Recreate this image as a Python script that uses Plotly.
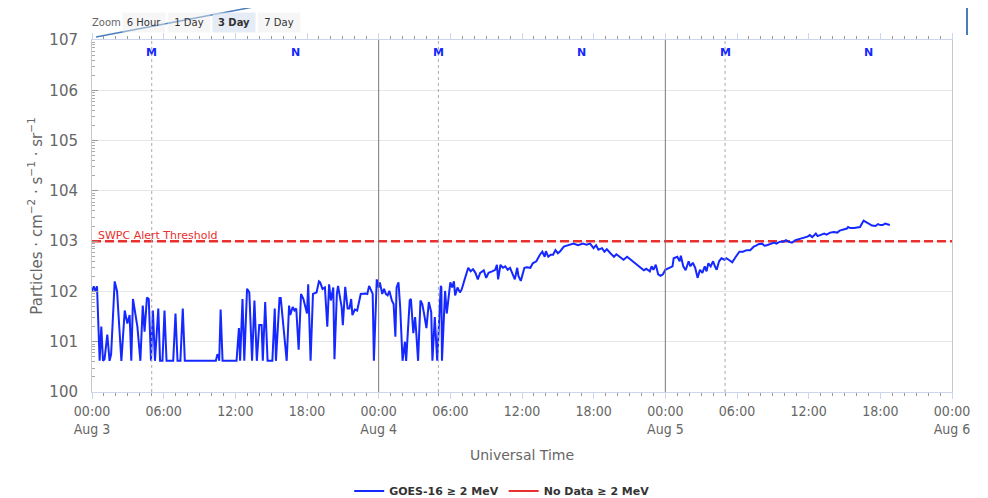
import pandas as pd
import plotly.graph_objects as go

# GOES-16 >= 2 MeV electron flux (hours after Aug 3 00:00 UT, log10 flux)
start = pd.Timestamp("2025-08-03 00:00")

hours = [
    0.0, 0.15, 0.3, 0.42, 0.64, 0.78, 0.92, 1.05, 1.28, 1.47, 1.6, 1.9, 2.1, 2.46, 2.74, 2.96,
    3.15, 3.29, 3.43, 3.8, 4.05, 4.25, 4.4, 4.6, 4.75, 4.94, 5.1, 5.27, 5.55, 5.7, 5.9, 6.07,
    6.24, 6.8, 6.99, 7.16, 7.4, 7.6, 7.77, 10.37, 10.5, 10.6, 10.65, 10.77, 10.93, 12.1, 12.3,
    12.4, 12.6, 12.75, 12.98, 13.17, 13.4, 13.6, 13.8, 14.0, 14.2, 14.3, 14.5, 14.7, 15.1, 15.3,
    15.4, 15.7, 15.8, 16.1, 16.3,
    16.5, 16.6, 16.8, 16.95, 17.1, 17.3, 17.5, 17.7, 18.0, 18.1, 18.3, 18.5, 18.8, 19.0, 19.1,
    19.3, 19.5, 19.7, 19.85, 20.0, 20.2, 20.3, 20.5, 20.6, 20.9, 21.0, 21.2, 21.4, 21.55, 21.7,
    21.8, 22.0, 22.2, 22.5, 22.9, 23.05, 23.2, 23.4, 23.5, 23.6, 23.84, 24.0, 24.1, 24.3, 24.45,
    24.6, 24.75, 24.9, 25.1, 25.25, 25.4, 25.5, 25.66, 25.8, 26.0, 26.2, 26.3, 26.6, 26.7, 26.9,
    27.05, 27.15, 27.3, 27.5, 27.65, 27.8, 28.0, 28.2, 28.4, 28.5, 28.7, 28.9, 29.2, 29.25, 29.3,
    29.56, 29.7, 29.8, 30.0, 30.15, 30.3, 30.4, 30.6, 30.8, 30.95, 31.2, 31.5, 31.7, 31.9, 32.1,
    32.3, 32.5, 32.8,
    33.0, 33.2, 33.5, 33.76, 33.9, 34.0, 34.2, 34.4, 34.6, 34.8, 35.0, 35.3, 35.4, 35.6, 35.7,
    35.9, 36.2, 36.4, 36.7, 36.9, 37.2, 37.5, 37.7, 37.9, 38.0, 38.2, 38.4, 38.6, 38.8, 39.0,
    39.2, 39.5, 39.9, 40.3, 40.7, 41.1, 41.4, 41.7, 41.99, 42.2, 42.4, 42.7, 42.9, 43.1, 43.4,
    43.7, 43.9, 44.2, 44.5, 44.8, 45.1, 45.5, 45.9, 46.2, 46.4, 46.7, 46.85, 47.0, 47.2, 47.4,
    47.6, 47.8, 48.0, 48.3, 48.6, 48.7, 49.0, 49.2, 49.3,
    49.5, 49.7, 49.95, 50.1, 50.3, 50.5, 50.7, 50.9, 51.1, 51.3, 51.45, 51.6, 51.8, 52.0, 52.15,
    52.3, 52.5, 52.7, 52.96, 53.1, 53.3, 53.6, 53.9, 54.2, 54.5, 54.8, 55.1, 55.4, 55.6, 55.8,
    56.1, 56.3, 56.5, 56.8, 57.1, 57.3, 57.6, 57.9, 58.1, 58.3, 58.6, 58.9, 59.2, 59.4, 59.7,
    59.9, 60.1, 60.3, 60.6, 60.75, 60.96, 61.3, 61.5, 61.8, 62.1, 62.4, 62.6, 62.9, 63.2, 63.3,
    63.5, 63.8, 64.0, 64.3, 64.6, 64.8, 65.0, 65.3, 65.6, 65.8, 66.0, 66.2, 66.4, 66.6, 66.8,
]

flux_exp = [
    2.0, 2.1, 2.0, 2.1, 0.62, 1.3, 0.62, 0.65, 1.14, 0.62, 0.75, 2.2, 2.0, 0.62, 1.62, 1.36,
    1.53, 0.62, 1.85, 1.3, 0.62, 1.72, 1.2, 1.88, 1.85, 0.62, 1.62, 0.62, 1.66, 0.62, 0.62, 1.62,
    0.62, 0.62, 1.56, 0.62, 0.62, 1.66, 0.62, 0.62, 0.75, 0.72, 0.62, 1.64, 0.62, 0.62, 1.27,
    0.62, 1.85, 0.62, 2.05, 1.98, 0.62, 1.82, 0.62, 1.33, 1.33, 0.62, 1.79, 0.62, 0.62, 1.66,
    0.62, 1.87, 1.87, 1.17, 0.62,
    1.72, 1.53, 1.69, 1.62, 1.66, 0.84, 1.95, 1.85, 1.56, 2.14, 0.62, 1.95, 1.98, 2.2, 2.18,
    2.05, 2.08, 1.3, 2.14, 1.82, 2.08, 0.65, 1.95, 2.11, 1.69, 1.33, 2.09, 1.66, 1.66, 1.85,
    1.53, 1.64, 1.62, 1.95, 1.96, 1.95, 2.11, 2.01, 1.95, 0.62, 2.24, 2.08, 2.18, 1.95, 2.05,
    1.95, 1.92, 2.01, 1.82, 1.75, 1.1, 2.08, 2.18, 1.69, 0.62, 1.0, 0.62, 1.82, 1.85, 1.17,
    1.49, 1.17, 0.62, 1.82, 1.75, 1.56, 1.27, 1.79, 1.59, 0.62, 1.49, 0.62, 2.11, 2.08, 0.62,
    2.01, 1.56, 1.75, 2.18, 2.08, 2.2, 1.92, 2.08, 1.98, 2.04, 2.24, 2.47, 2.4, 2.44, 2.37,
    2.24, 2.37, 2.42,
    2.27, 2.37, 2.4, 2.43, 2.53, 2.24, 2.53, 2.47, 2.5, 2.43, 2.47, 2.31, 2.24, 2.47, 2.31,
    2.21, 2.47, 2.48, 2.47, 2.56, 2.6, 2.73, 2.79, 2.69, 2.8, 2.69, 2.73, 2.73, 2.82, 2.76,
    2.8, 2.89, 2.92, 2.95, 2.92, 2.95, 2.93, 2.95, 2.86, 2.92, 2.83, 2.86, 2.79, 2.84, 2.76,
    2.69, 2.74, 2.69, 2.63, 2.69, 2.63, 2.56, 2.47, 2.42, 2.45, 2.4, 2.5, 2.43, 2.53, 2.34,
    2.31, 2.34, 2.43, 2.47, 2.5, 2.66, 2.69, 2.6, 2.71,
    2.5, 2.42, 2.6, 2.5, 2.57, 2.47, 2.27, 2.43, 2.37, 2.5, 2.4, 2.56, 2.5, 2.6, 2.5,
    2.43, 2.6, 2.66, 2.63, 2.66, 2.63, 2.58, 2.69, 2.79, 2.79, 2.82, 2.82, 2.89, 2.91, 2.94,
    2.95, 2.91, 2.92, 2.94, 2.97, 2.95, 2.99, 2.99, 3.02, 2.99, 2.97, 3.02, 3.04, 3.06, 3.08,
    3.09, 3.12, 3.08, 3.15, 3.1, 3.12, 3.15, 3.13, 3.17, 3.18, 3.17, 3.21, 3.23, 3.25, 3.28,
    3.26, 3.26, 3.27, 3.28, 3.41, 3.38, 3.34, 3.31, 3.3, 3.34, 3.32, 3.32, 3.35, 3.33, 3.32,
]

threshold = 1000
day_line_hours = [24, 48]
local_midnight_hours = [5, 29, 53]
local_noon_hours = [17, 41, 65]

tick_hours = list(range(0, 73, 6))
tick_labels = ["00:00<br>Aug 3", "06:00", "12:00", "18:00",
               "00:00<br>Aug 4", "06:00", "12:00", "18:00",
               "00:00<br>Aug 5", "06:00", "12:00", "18:00",
               "00:00<br>Aug 6"]
ytick_vals = [1, 10, 100, 1000, 1e4, 1e5, 1e6, 1e7]
ytick_labels = ["100", "101", "102", "103", "104", "105", "106", "107"]

zoom_buttons = ["6 Hour", "1 Day", "3 Day", "7 Day"]
active_button = "3 Day"


def t(h):
    return start + pd.Timedelta(hours=h)


times = [t(h) for h in hours]
flux = [10 ** v for v in flux_exp]

# the page body adds an 8px margin, so the figure is drawn 8px smaller and shifted
PAD = 8
W, H = 988 - PAD, 498 - PAD
# plot area in screenshot pixels: x 92..952, y 40..392
L, R, T, B = 92, 952, 40, 392


def px(x):
    return (x - L) / (R - L)


def py(y):
    return (B - y) / (B - T)


gray = "#666666"
fig = go.Figure()

fig.add_trace(go.Scatter(x=[t(0), t(72)], y=[threshold, threshold], mode="lines",
                         line=dict(color="#e8302e", width=2.5, dash="9px,4px"),
                         showlegend=False, hoverinfo="skip"))
fig.add_trace(go.Scatter(x=times, y=flux, mode="lines", name="GOES-16 ≥ 2 MeV",
                         line=dict(color="#1428ff", width=2)))
fig.add_trace(go.Scatter(x=[None], y=[None], mode="lines", name="No Data ≥ 2 MeV",
                         line=dict(color="#e8302e", width=2)))

for h in day_line_hours:
    fig.add_vline(x=t(h), line=dict(color="#777777", width=1))
for h in local_midnight_hours:
    fig.add_vline(x=t(h), line=dict(color="#aaaaaa", width=1, dash="dot"))

for h in local_midnight_hours:
    fig.add_annotation(x=t(h), y=1, yref="paper", text="<b>M</b>", showarrow=False,
                       yanchor="top", yshift=-4, font=dict(size=11, color="#1428ff"))
for h in local_noon_hours:
    fig.add_annotation(x=t(h), y=1, yref="paper", text="<b>N</b>", showarrow=False,
                       yanchor="top", yshift=-4, font=dict(size=11, color="#1428ff"))

fig.add_annotation(x=t(0.35), y=3, text="SWPC Alert Threshold", showarrow=False,
                   xanchor="left", yanchor="bottom", yshift=-3,
                   font=dict(size=11, color="#e8302e"))

# zoom buttons row
fig.add_annotation(x=px(90), y=py(22), xref="paper", yref="paper", text="Zoom",
                   showarrow=False, xanchor="left", yanchor="middle",
                   font=dict(size=10, color=gray))
bx = 144
for b in zoom_buttons:
    active = b == active_button
    fig.add_annotation(x=px(bx), y=py(22), xref="paper", yref="paper",
                       text=f"<b>{b}</b>" if active else b, showarrow=False,
                       xanchor="center", yanchor="middle", width=40, height=17,
                       bgcolor="rgba(220,228,242,0.7)" if active else "rgba(235,235,235,0.45)",
                       font=dict(size=10, color="#333333"))
    bx += 45

# stray navigator strokes visible in the screenshot
fig.add_shape(type="line", xref="paper", yref="paper", x0=px(96), y0=py(37), x1=px(290),
              y1=py(0), line=dict(color="#4a7ebb", width=1.5))
fig.add_shape(type="line", xref="paper", yref="paper", x0=px(967), y0=py(0), x1=px(967),
              y1=py(35), line=dict(color="#4a7ebb", width=2))

fig.update_layout(
    width=W, height=H,
    margin=dict(l=L - PAD, r=988 - R, t=T - PAD, b=498 - B),
    paper_bgcolor="white", plot_bgcolor="white",
    font=dict(family="DejaVu Sans, sans-serif", color=gray),
    showlegend=True,
    legend=dict(orientation="h", x=0.477, xanchor="center", yref="container",
                y=1 - (491 - PAD) / H, yanchor="middle",
                font=dict(size=11, color="#333333", family="DejaVu Sans, sans-serif",
                          weight="bold"),
                itemwidth=30, tracegroupgap=0),
    xaxis=dict(
        range=[t(0), t(72)], tickvals=[t(h) for h in tick_hours], ticktext=tick_labels,
        automargin=False,
        showgrid=False, zeroline=False, showline=True, linecolor="#ccd6eb", mirror="allticks",
        ticks="outside", ticklen=6, tickcolor="#ccd6eb",
        minor=dict(tickvals=[t(h) for h in range(0, 73)], ticks="outside", ticklen=3,
                   tickcolor="#999999", showgrid=False),
        tickfont=dict(size=14, color=gray,
                      family="Liberation Sans Narrow, DejaVu Sans Condensed, sans-serif"),
        title=dict(text="Universal Time", font=dict(size=14, color=gray), standoff=14),
    ),
    yaxis=dict(
        type="log", range=[0, 7.0], tickvals=ytick_vals, ticktext=ytick_labels,
        automargin=False,
        showgrid=True, gridcolor="#e6e6e6", zeroline=False, showline=True,
        linecolor="#c8c8c8", mirror=True, ticks="inside", ticklen=6, tickcolor="#999999",
        minor=dict(tickvals=[k * 10 ** n for n in range(0, 7) for k in range(2, 10)],
                   ticks="inside", ticklen=3, tickcolor="#aaaaaa", showgrid=False),
        ticklabelstandoff=10,
        tickfont=dict(size=15, color=gray),
        title=dict(text="Particles · cm<sup>−2</sup> · s<sup>−1</sup> · sr<sup>−1</sup>",
                   font=dict(size=15, color=gray), standoff=3),
    ),
)

fig.write_html("out.html")
